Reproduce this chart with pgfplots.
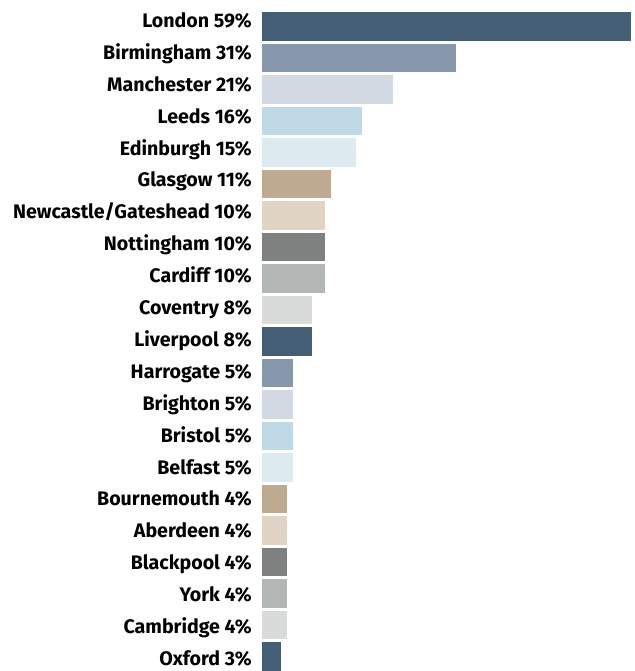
\documentclass[border=0pt]{standalone}
\usepackage{pgfplots}
\pgfplotsset{compat=1.18}
\usepackage{fontspec}
\setmainfont{Fira Sans}

\definecolor{c1}{HTML}{445E76}
\definecolor{c2}{HTML}{8798AD}
\definecolor{c3}{HTML}{D3D9E3}
\definecolor{c4}{HTML}{BED9E4}
\definecolor{c5}{HTML}{DDEAF0}
\definecolor{c6}{HTML}{BDAA90}
\definecolor{c7}{HTML}{E0D4C4}
\definecolor{c8}{HTML}{7E8180}
\definecolor{c9}{HTML}{B2B6B5}
\definecolor{c10}{HTML}{D9DADA}

\begin{document}
\begin{tikzpicture}
\useasboundingbox (0,0) rectangle (634pt,671pt);
\begin{axis}[at={(262pt,0pt)}, anchor=south west, scale only axis,
  width=369pt, height=671pt,
  xmin=0, xmax=59, ymin=-0.84, ymax=20.46, y dir=reverse,
  axis lines=none, clip=false,
  xbar, bar shift=0pt, bar width=0.91,
  ytick={0,...,20}, hide x axis]
\addplot[draw=none, fill=c1] coordinates {(59,0)};
\addplot[draw=none, fill=c2] coordinates {(31,1)};
\addplot[draw=none, fill=c3] coordinates {(21,2)};
\addplot[draw=none, fill=c4] coordinates {(16,3)};
\addplot[draw=none, fill=c5] coordinates {(15,4)};
\addplot[draw=none, fill=c6] coordinates {(11,5)};
\addplot[draw=none, fill=c7] coordinates {(10,6)};
\addplot[draw=none, fill=c8] coordinates {(10,7)};
\addplot[draw=none, fill=c9] coordinates {(10,8)};
\addplot[draw=none, fill=c10] coordinates {(8,9)};
\addplot[draw=none, fill=c1] coordinates {(8,10)};
\addplot[draw=none, fill=c2] coordinates {(5,11)};
\addplot[draw=none, fill=c3] coordinates {(5,12)};
\addplot[draw=none, fill=c4] coordinates {(5,13)};
\addplot[draw=none, fill=c5] coordinates {(5,14)};
\addplot[draw=none, fill=c6] coordinates {(4,15)};
\addplot[draw=none, fill=c7] coordinates {(4,16)};
\addplot[draw=none, fill=c8] coordinates {(4,17)};
\addplot[draw=none, fill=c9] coordinates {(4,18)};
\addplot[draw=none, fill=c10] coordinates {(4,19)};
\addplot[draw=none, fill=c1] coordinates {(3,20)};
\end{axis}
% category labels, one per bar row (baselines a little looser than bars)
\foreach \lab [count=\i from 0] in {London 59\%, Birmingham 31\%, Manchester 21\%,
  Leeds 16\%, Edinburgh 15\%, Glasgow 11\%, Newcastle/Gateshead 10\%,
  Nottingham 10\%, Cardiff 10\%, Coventry 8\%, Liverpool 8\%, Harrogate 5\%,
  Brighton 5\%, Bristol 5\%, Belfast 5\%, Bournemouth 4\%, Aberdeen 4\%,
  Blackpool 4\%, York 4\%, Cambridge 4\%, Oxford 3\%}
  \node[anchor=base east, font=\fontsize{19.6}{22}\selectfont\bfseries, inner sep=0pt]
    at (252pt, {671pt-27.5pt-\i*31.9pt}) {\lab};
\end{tikzpicture}
\end{document}
